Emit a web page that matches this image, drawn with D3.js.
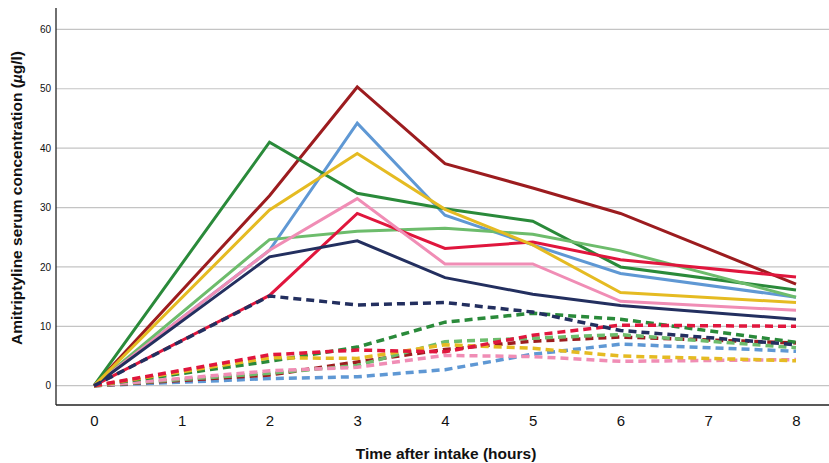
<!DOCTYPE html>
<html>
<head>
<meta charset="utf-8">
<script src="https://cdn.jsdelivr.net/npm/d3@7"></script>
<style>
  body { margin: 0; background: #fff; }
  text { font-family: "Liberation Sans", Arial, sans-serif; }
</style>
</head>
<body>
<svg id="svg1"></svg>
<script>
var hours = [0, 2, 3, 4, 5, 6, 8];
var xTicks = [0, 1, 2, 3, 4, 5, 6, 7, 8];
var yTicks = [0, 10, 20, 30, 40, 50, 60];

var subjects = ["darkred", "blue", "yellow", "darkgreen", "pink", "red", "lightgreen", "navy"];
var subjectColors = ["#9c1c1f", "#5f98d4", "#e5bb22", "#2a8a3a", "#f08db5", "#e0163d", "#6dbc6c", "#232f5f"];

// solid lines
var solidDarkRed   = [0, 32.0, 50.3, 37.4, 33.3, 29.0, 17.1];
var solidBlue      = [0, 22.8, 44.2, 28.7, 23.7, 18.9, 14.9];
var solidYellow    = [0, 29.6, 39.1, 29.7, 23.7, 15.7, 14.0];
var solidDarkGreen = [0, 41.0, 32.4, 29.8, 27.7, 20.0, 16.1];
var solidPink      = [0, 22.8, 31.5, 20.5, 20.5, 14.2, 12.7];
var solidRed       = [0, 15.2, 29.0, 23.1, 24.2, 21.2, 18.3];
var solidLightGreen= [0, 24.6, 26.0, 26.5, 25.5, 22.7, 14.9];
var solidNavy      = [0, 21.7, 24.4, 18.2, 15.4, 13.5, 11.2];

// dashed lines
var dashDarkRed    = [0, 1.8, 4.0, 6.1, 7.5, 8.2, 7.2];
var dashBlue       = [0, 1.2, 1.5, 2.7, 5.3, 7.0, 5.8];
var dashYellow     = [0, 4.7, 4.6, 6.9, 6.3, 5.0, 4.2];
var dashDarkGreen  = [0, 4.1, 6.5, 10.7, 12.2, 11.2, 7.3];
var dashPink       = [0, 2.5, 3.1, 5.1, 4.9, 4.1, 4.4];
var dashRed        = [0, 5.2, 6.0, 5.7, 8.5, 10.2, 10.0];
var dashLightGreen = [0, 2.1, 3.4, 7.4, 8.0, 8.6, 6.4];
var dashNavy       = [0, 15.1, 13.6, 14.0, 12.4, 9.3, 6.9];

var solidVals = [solidDarkRed, solidBlue, solidYellow, solidDarkGreen, solidPink, solidRed, solidLightGreen, solidNavy];
var dashVals = [dashDarkRed, dashBlue, dashYellow, dashDarkGreen, dashPink, dashRed, dashLightGreen, dashNavy];

var W = 829, H = 463;
var margin = {top: 8, right: 0, bottom: 58, left: 56};
var width = W - margin.left - margin.right;
var height = H - margin.top - margin.bottom;

var color = d3.scaleOrdinal().domain(subjects).range(subjectColors);

var x = d3.scaleLinear().domain([-0.433, 8.376]).range([0, width]);
var y = d3.scaleLinear().domain([-3.25, 63.6]).range([height, 0]);

var svg = d3.select('#svg1')
  .attr('width', W)
  .attr('height', H)
  .append('g')
    .attr('transform', 'translate(' + margin.left + ',' + margin.top + ')');

// gridlines
svg.append('g')
  .selectAll('line')
  .data(yTicks)
  .enter()
  .append('line')
    .attr('x1', 0)
    .attr('x2', width)
    .attr('y1', function(d) { return y(d) })
    .attr('y2', function(d) { return y(d) })
    .attr('stroke', '#c4c4c4')
    .attr('stroke-width', 1.2);

function toPoints(vals) {
  return vals.map(function(v, i) { return {hour: hours[i], value: v} });
}

var line = d3.line()
  .x(function(d) { return x(d.hour) })
  .y(function(d) { return y(d.value) });

var solidData = subjects.map(function(s, i) { return {subject: s, values: toPoints(solidVals[i])} });
var dashData = subjects.map(function(s, i) { return {subject: s, values: toPoints(dashVals[i])} });

var solidOrder = ["darkred", "blue", "darkgreen", "lightgreen", "red", "pink", "navy", "yellow"];
solidData.sort(function(a, b) { return solidOrder.indexOf(a.subject) - solidOrder.indexOf(b.subject) });

var dashOrder = ["blue", "darkred", "lightgreen", "pink", "darkgreen", "yellow", "red", "navy"];
dashData.sort(function(a, b) { return dashOrder.indexOf(a.subject) - dashOrder.indexOf(b.subject) });

svg.selectAll('.solid')
  .data(solidData)
  .enter()
  .append('path')
    .attr('class', 'solid')
    .attr('d', function(d) { return line(d.values) })
    .attr('stroke', function(d) { return color(d.subject) })
    .style('stroke-width', 3)
    .style('fill', 'none');

svg.selectAll('.dashed')
  .data(dashData)
  .enter()
  .append('path')
    .attr('class', 'dashed')
    .attr('d', function(d) { return line(d.values) })
    .attr('stroke', function(d) { return color(d.subject) })
    .style('stroke-width', 3.5)
    .style('stroke-dasharray', '8,5')
    .style('fill', 'none');

// axes
var xAxis = d3.axisBottom(x).tickValues(xTicks).tickSize(0).tickPadding(10).tickFormat(d3.format('d'));
var yAxis = d3.axisLeft(y).tickValues(yTicks).tickSize(0).tickPadding(5);

var gx = svg.append('g')
  .attr('transform', 'translate(0,' + height + ')')
  .call(xAxis);
gx.select('.domain').attr('d', 'M0,0H' + width).attr('stroke', '#222').attr('stroke-width', 1.3);
gx.selectAll('text').style('font-size', '15px').attr('fill', '#111');

var gy = svg.append('g')
  .call(yAxis);
gy.select('.domain').attr('d', 'M0,' + height + 'V0').attr('stroke', '#222').attr('stroke-width', 1.3);
gy.selectAll('text').style('font-size', '10px').attr('fill', '#111');

svg.append('text')
  .attr('x', 446 - margin.left)
  .attr('y', height + 54)
  .attr('text-anchor', 'middle')
  .style('font-size', '15.5px')
  .style('font-weight', 'bold')
  .attr('fill', '#111')
  .text('Time after intake (hours)');

var yt = svg.append('text')
  .attr('transform', 'translate(' + (22 - margin.left) + ',' + (198 - margin.top) + ') rotate(-90)')
  .attr('text-anchor', 'middle')
  .style('font-size', '15.5px')
  .style('font-weight', 'bold')
  .attr('fill', '#111');
yt.append('tspan').text('Amitriptyline serum concentration (');
yt.append('tspan').style('font-style', 'italic').text('µ');
yt.append('tspan').text('g/l)');
</script>
</body>
</html>
